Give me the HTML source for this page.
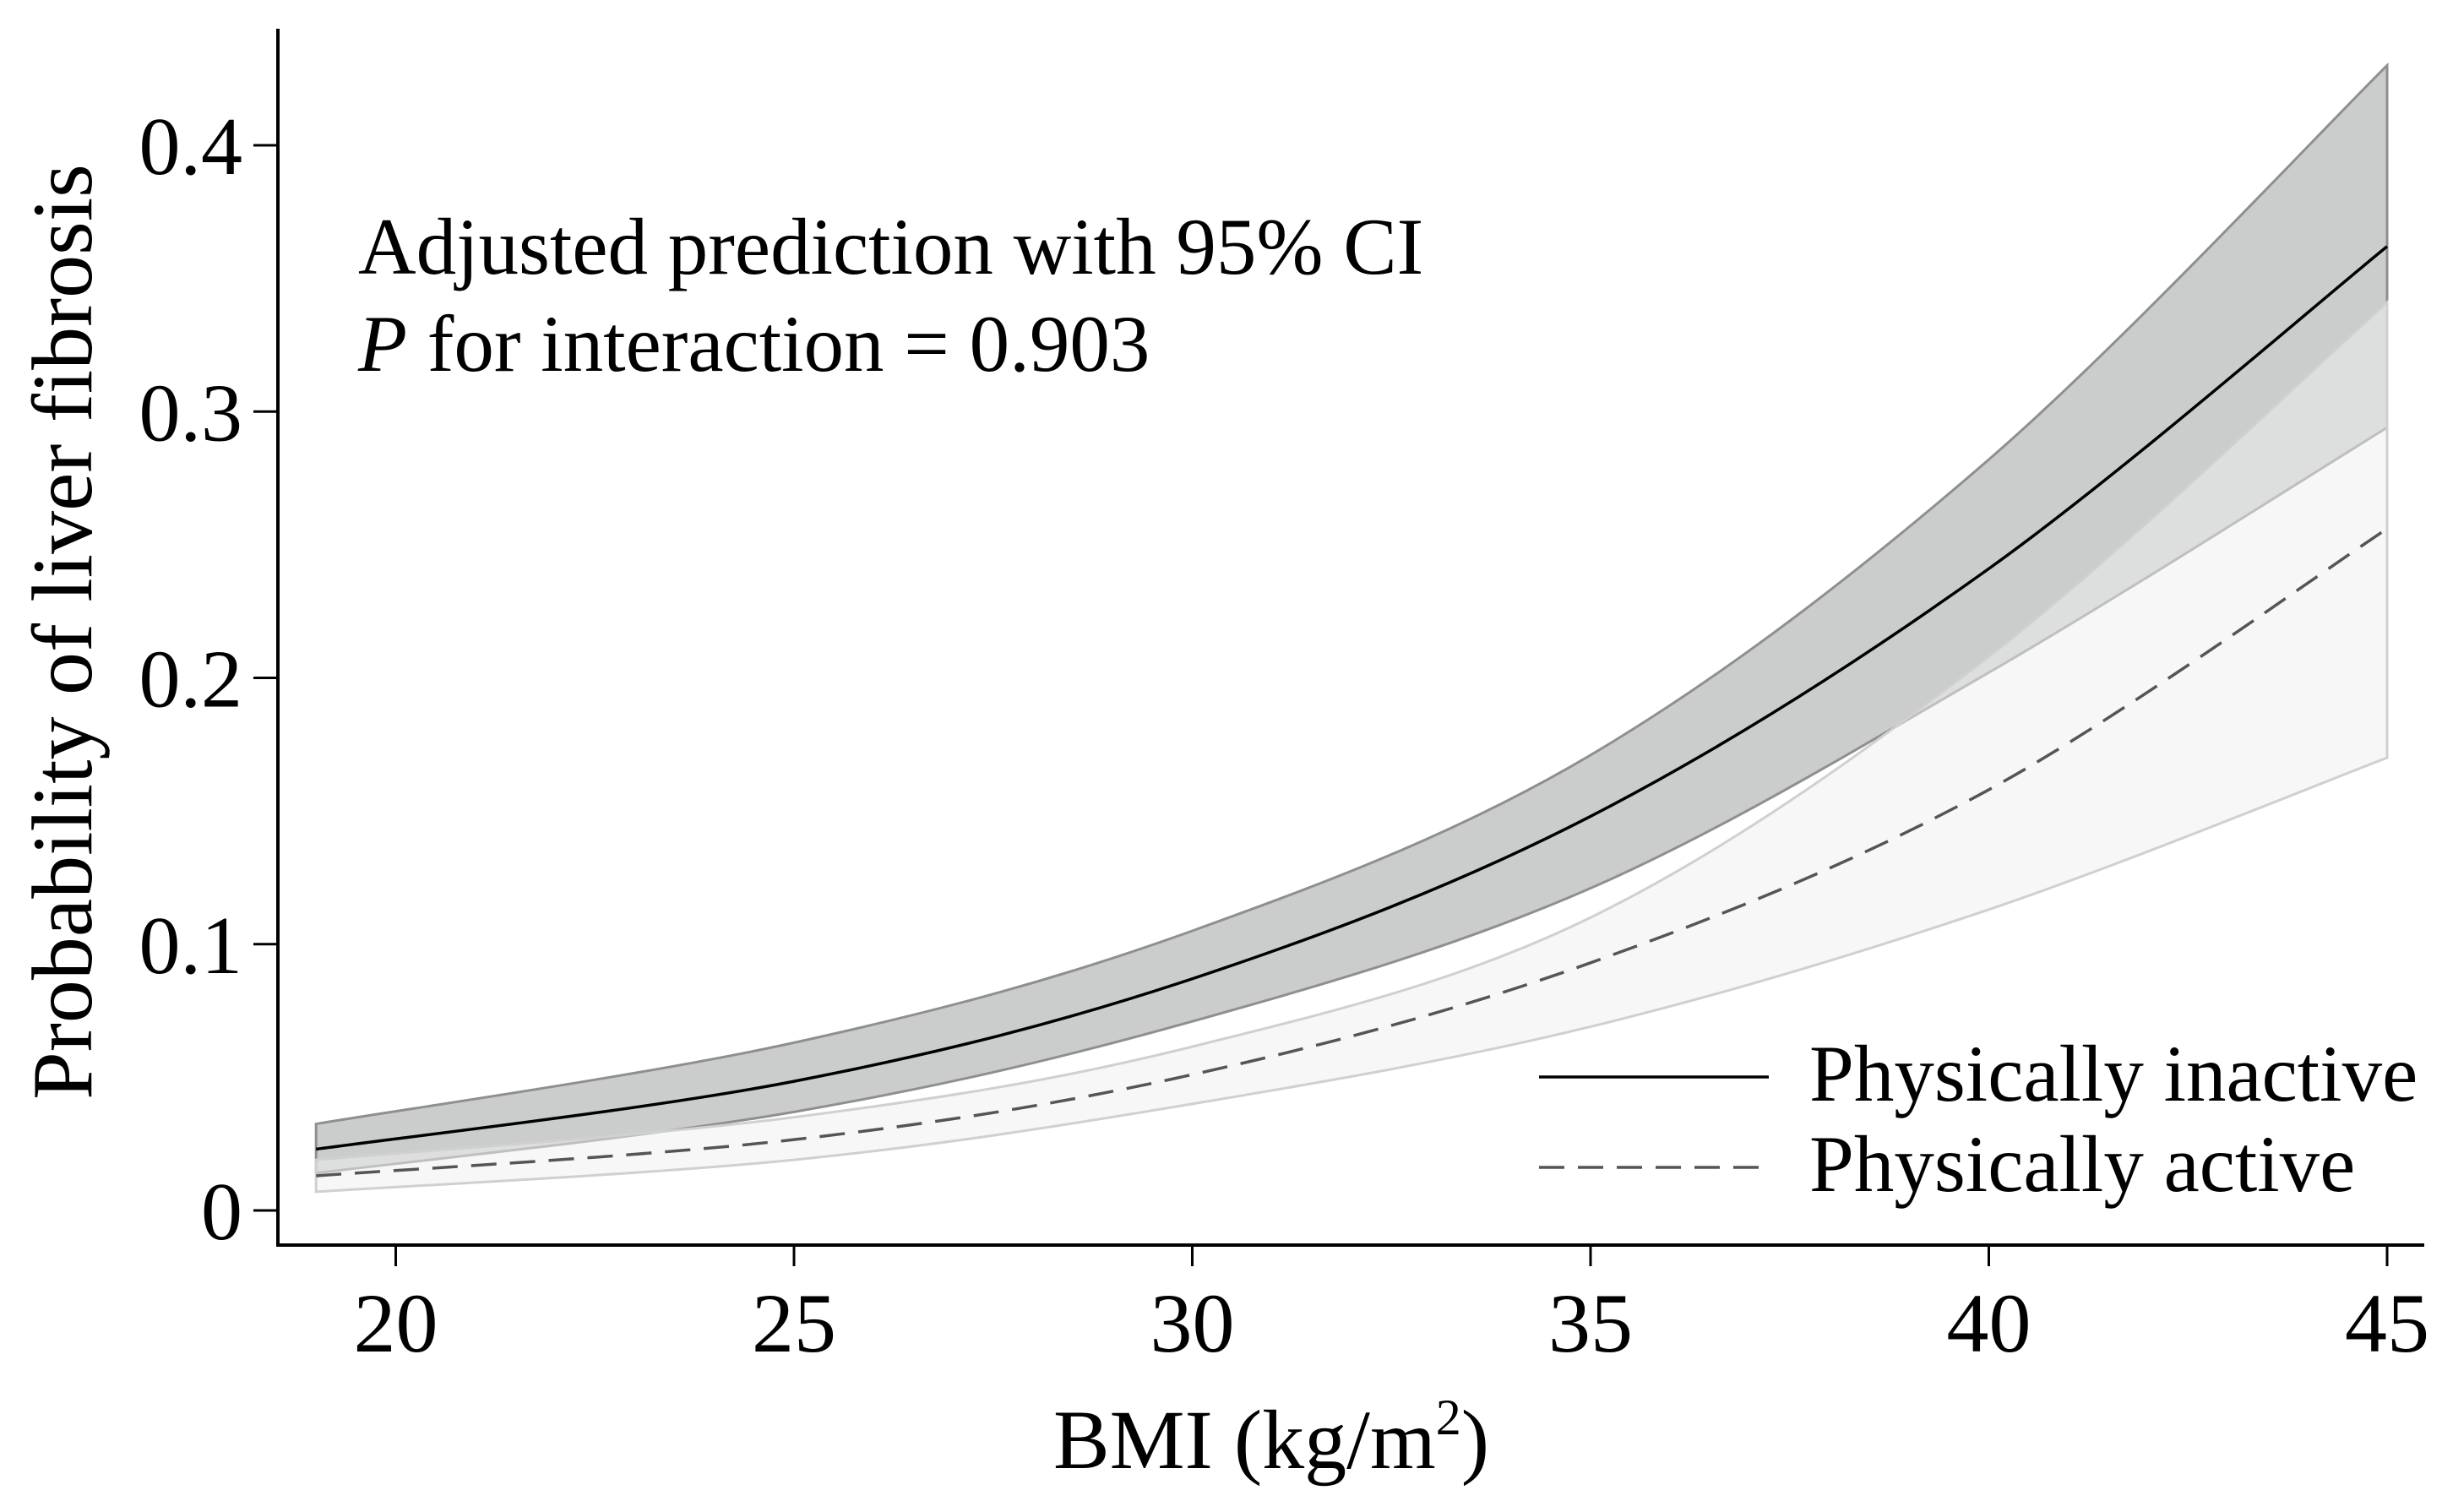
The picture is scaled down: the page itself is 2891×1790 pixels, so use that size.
<!DOCTYPE html>
<html><head><meta charset="utf-8"><style>
html,body{margin:0;padding:0;background:#fff}
svg{display:block;font-family:"Liberation Serif",serif}
</style></head><body>
<svg id="chart" width="2891" height="1790" viewBox="0 0 2891 1790" xmlns="http://www.w3.org/2000/svg">
<g id="bands"></g>
<g id="lines"></g>
<g id="axes"></g>
<text x="424" y="324" font-size="95">Adjusted prediction with 95% CI</text>
<text x="424" y="439" font-size="95"><tspan font-style="italic">P</tspan> for interaction = 0.903</text>
<text transform="translate(108,748) rotate(-90)" text-anchor="middle" font-size="102">Probability of liver fibrosis</text>
<text x="1505" y="1738" text-anchor="middle" font-size="100">BMI (kg/m<tspan font-size="60" dy="-40">2</tspan><tspan dy="40">)</tspan></text>
<g>
<line x1="1822" y1="1275" x2="2094" y2="1275" stroke="#000" stroke-width="3.5"/>
<text x="2142" y="1303" font-size="95">Physically inactive</text>
<line x1="1822" y1="1382" x2="2094" y2="1382" stroke="#555" stroke-width="3.5" stroke-dasharray="30,16"/>
<text x="2142" y="1410" font-size="95">Physically active</text>
</g>
</svg>
<script>
const bmi = [19, 25, 30, 35, 40, 45];
const inactiveMean = [0.023, 0.0485, 0.087, 0.148, 0.241, 0.362];
const inactiveUpper = [0.0325, 0.063, 0.105, 0.171, 0.282, 0.430];
const inactiveLower = [0.014, 0.037, 0.071, 0.121, 0.202, 0.294];
const activeMean = [0.013, 0.0266, 0.051, 0.093, 0.158, 0.256];
const activeUpper = [0.019, 0.035, 0.0615, 0.110, 0.208, 0.341];
const activeLower = [0.007, 0.019, 0.040, 0.069, 0.113, 0.170];
const xTicks = [20, 25, 30, 35, 40, 45];
const yTicks = [0, 0.1, 0.2, 0.3, 0.4];
const yTickLabels = ["0", "0.1", "0.2", "0.3", "0.4"];

const X = v => 468.5 + (v - 20) * 94.3;
const Y = v => 1433 - v * 3152.5;
const NS = "http://www.w3.org/2000/svg";
function mk(tag, attrs, parent) {
  const e = document.createElementNS(NS, tag);
  for (const k in attrs) e.setAttribute(k, attrs[k]);
  parent.appendChild(e);
  return e;
}
function pts(xs, ys) { return xs.map((x, i) => [X(x), Y(ys[i])]); }
function curve(p, move) {
  let d = (move ? "M" : "L") + p[0][0] + "," + p[0][1];
  for (let i = 0; i < p.length - 1; i++) {
    const p0 = p[i - 1] || p[i], p1 = p[i], p2 = p[i + 1], p3 = p[i + 2] || p2;
    const c1 = [p1[0] + (p2[0] - p0[0]) / 6, p1[1] + (p2[1] - p0[1]) / 6];
    const c2 = [p2[0] - (p3[0] - p1[0]) / 6, p2[1] - (p3[1] - p1[1]) / 6];
    d += "C" + c1 + " " + c2 + " " + p2;
  }
  return d;
}
function band(up, lo) {
  const pu = pts(bmi, up), pl = pts(bmi, lo).reverse();
  return curve(pu, true) + curve(pl, false) + "Z";
}
const bands = document.getElementById("bands");
const lines = document.getElementById("lines");
const axes = document.getElementById("axes");

let e = mk("path", {d: band(inactiveUpper, inactiveLower), fill: "#cbcccc", stroke: "#8f8f8f", "stroke-width": 3}, bands);


e = mk("path", {d: band(activeUpper, activeLower), fill: "rgba(240,240,240,0.5)", stroke: "#d0d0d0", "stroke-width": 3}, bands);


e = mk("path", {d: curve(pts(bmi, inactiveMean), true), fill: "none", stroke: "#000", "stroke-width": 3.5}, lines);


e = mk("path", {d: curve(pts(bmi, activeMean), true), fill: "none", stroke: "#555", "stroke-width": 3.5, "stroke-dasharray": "30,16"}, lines);



e = mk("line", {x1: 329, y1: 34, x2: 329, y2: 1476, stroke: "#000", "stroke-width": 4}, axes);


e = mk("line", {x1: 327, y1: 1474, x2: 2870, y2: 1474, stroke: "#000", "stroke-width": 4}, axes);


xTicks.forEach(v => {
  let t = mk("line", {x1: X(v), y1: 1474, x2: X(v), y2: 1499, stroke: "#000", "stroke-width": 3}, axes);
  
  
  t = mk("text", {x: X(v), y: 1600, "text-anchor": "middle", "font-size": 100}, axes);
  
  
  t.textContent = v;
});
yTicks.forEach((v, i) => {
  let t = mk("line", {x1: 300, y1: Y(v), x2: 329, y2: Y(v), stroke: "#000", "stroke-width": 3}, axes);
  
  
  t = mk("text", {x: 287, y: Y(v) + 34, "text-anchor": "end", "font-size": 98}, axes);
  
  
  t.textContent = yTickLabels[i];
});
</script>
</body></html>
